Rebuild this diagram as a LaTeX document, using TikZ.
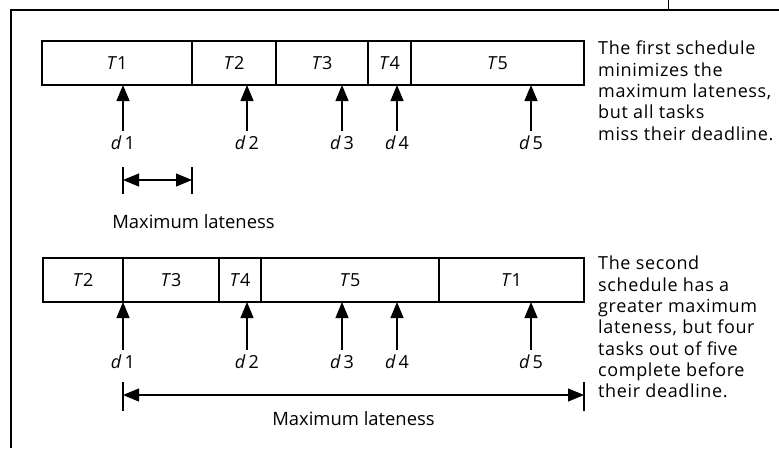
\documentclass[tikz,border=0pt]{standalone}
\usepackage{fontspec}
\setmainfont{Open Sans}
\newfontfamily\notefont[LetterSpace=3.5]{Open Sans}
\usetikzlibrary{arrows.meta,calc}
\begin{document}
\begin{tikzpicture}[x=1pt,y=-1pt,
  cell/.style={draw,line width=1.1pt,minimum height=44pt,inner sep=0pt,font=\fontsize{18}{20}\selectfont},
  dlab/.style={inner sep=0pt,font=\fontsize{18}{20}\selectfont},
  dl/.style={line width=1.1pt,-{Triangle[width=13pt,length=16pt]}},
  dbl/.style={line width=1.1pt,{Triangle[width=13pt,length=16pt]}-{Triangle[width=13pt,length=16pt]}},
  tickl/.style={line width=1.1pt},
  frame/.style={line width=1.2pt},
  note/.style={anchor=north west,align=left,inner sep=0pt,font=\notefont\fontsize{18}{21.3}\selectfont},
  mlab/.style={inner sep=0pt,font=\fontsize{18.4}{20}\selectfont}]
\useasboundingbox (0,0) rectangle (779,448);
% frame
\coordinate (fa) at (11,448);
\coordinate (fb) at (11,10);
\coordinate (fc) at (779,10);
\coordinate (fd) at (668,0);
\coordinate (fe) at (668,10);
\draw[frame] (fa) -- (fb) -- (fc);
\draw[line width=0.8pt] (fd) -- (fe);
% first schedule
\node[cell,minimum width=150pt] (a1) at (117,63) {\textit{T}1};
\node[cell,minimum width=84pt] (a2) at (234,63) {\textit{T}2};
\node[cell,minimum width=92pt] (a3) at (322,63) {\textit{T}3};
\node[cell,minimum width=43pt] (a4) at (389.5,63) {\textit{T}4};
\node[cell,minimum width=173pt] (a5) at (497.5,63) {\textit{T}5};
\foreach \i/\x in {1/123,2/247,3/342,4/397,5/531}{
  \node[dlab] (ad\i) at (\x,143) {\textit{d}\,\i};
  \coordinate (ap\i) at (\x,85);
  \draw[dl] ($(ad\i.north)+(0,-5)$) -- (ap\i);
}
\coordinate (m1l) at (123,180);
\coordinate (m1r) at (192,180);
\draw[tickl] ($(m1l)+(0,-13)$) -- ($(m1l)+(0,14)$);
\draw[tickl] ($(m1r)+(0,-13)$) -- ($(m1r)+(0,14)$);
\draw[dbl] (m1l) -- (m1r);
\node[mlab] (ml1) at (193.5,222) {Maximum lateness};
\node[note] (n1) at (598,41) {The first schedule\\minimizes the\\maximum lateness,\\but all tasks\\miss their deadline.};
% second schedule
\node[cell,minimum width=80pt] (b2) at (83,280) {\textit{T}2};
\node[cell,minimum width=96pt] (b3) at (171,280) {\textit{T}3};
\node[cell,minimum width=42pt] (b4) at (240,280) {\textit{T}4};
\node[cell,minimum width=178pt] (b5) at (350,280) {\textit{T}5};
\node[cell,minimum width=145pt] (b1) at (511.5,280) {\textit{T}1};
\foreach \i/\x in {1/123,2/247,3/342,4/397,5/531}{
  \node[dlab] (bd\i) at (\x,362) {\textit{d}\,\i};
  \coordinate (bp\i) at (\x,302);
  \draw[dl] ($(bd\i.north)+(0,-5)$) -- (bp\i);
}
\coordinate (m2l) at (123,395);
\coordinate (m2r) at (584,395);
\draw[tickl] ($(m2l)+(0,-13)$) -- ($(m2l)+(0,16)$);
\draw[tickl] ($(m2r)+(0,-13)$) -- ($(m2r)+(0,16)$);
\draw[dbl] (m2l) -- (m2r);
\node[mlab] (ml2) at (353.5,419) {Maximum lateness};
\node[note] (n2) at (598,256) {The second\\schedule has a\\greater maximum\\lateness, but four\\tasks out of five\\complete before\\their deadline.};
\end{tikzpicture}
\end{document}
